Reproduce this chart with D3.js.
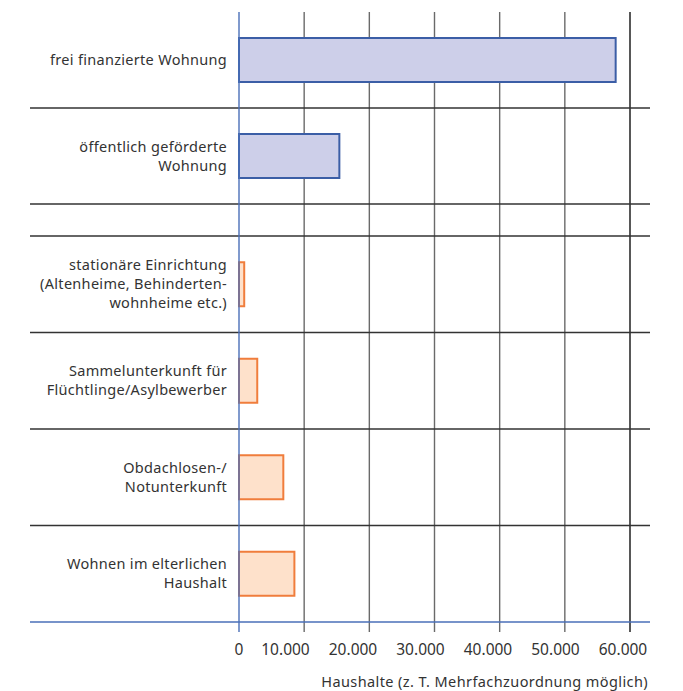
<!DOCTYPE html>
<html>
<head>
<meta charset="utf-8">
<script src="https://cdn.jsdelivr.net/npm/d3@7"></script>
<style>
  html, body { margin: 0; padding: 0; background: #fff; }
  svg { display: block; font-family: "Noto Sans", "Open Sans", sans-serif; }
</style>
</head>
<body>
<svg id="chart" width="683" height="691"></svg>
<script>
// ---- data ----
const topCategories = ["frei finanzierte Wohnung", "öffentlich geförderte Wohnung"];
const topValues = [57800, 15400];
const topLabelLines = [["frei finanzierte Wohnung"], ["öffentlich geförderte", "Wohnung"]];

const bottomCategories = ["stationäre Einrichtung", "Sammelunterkunft", "Obdachlosenunterkunft", "Wohnen im elterlichen Haushalt"];
const bottomValues = [800, 2800, 6800, 8500];
const bottomLabelLines = [
  ["stationäre Einrichtung", "(Altenheime, Behinderten-", "wohnheime etc.)"],
  ["Sammelunterkunft für", "Flüchtlinge/Asylbewerber"],
  ["Obdachlosen-/", "Notunterkunft"],
  ["Wohnen im elterlichen", "Haushalt"]
];

const tickValues = [0, 10000, 20000, 30000, 40000, 50000, 60000];
const tickLabels = ["0", "10.000", "20.000", "30.000", "40.000", "50.000", "60.000"];
const axisTitle = "Haushalte (z. T. Mehrfachzuordnung möglich)";

// ---- layout ----
const svg = d3.select("#chart");
const x = d3.scaleLinear().domain([0, 60000]).range([239, 630]);
const labelX = d3.scaleLinear().domain([10000, 60000]).range([285.5, 623]);
const yTop = d3.scaleBand().domain(topCategories).range([12, 204]);
const yBottom = d3.scaleBand().domain(bottomCategories).range([236, 622]);
const leftEdge = 30, rightEdge = 650, plotTop = 12, plotBottom = 622, tickEnd = 632;
const barH = 44;
const lineH = 19;

// vertical grid lines
svg.append("g").selectAll("line").data(tickValues.slice(1)).join("line")
  .attr("x1", d => x(d)).attr("x2", d => x(d))
  .attr("y1", plotTop).attr("y2", tickEnd)
  .attr("stroke", d => d === 60000 ? "#111" : "#6a6a6a")
  .attr("stroke-width", 1.4);

// horizontal separators
const sepYs = topCategories.map(c => yTop(c) + yTop.bandwidth())
  .concat(bottomCategories.map(c => yBottom(c)));
svg.append("g").selectAll("line").data(sepYs).join("line")
  .attr("x1", leftEdge).attr("x2", rightEdge)
  .attr("y1", d => d).attr("y2", d => d)
  .attr("stroke", "#333").attr("stroke-width", 1.4);

// bars
function drawBars(cats, vals, yScale, fill, stroke) {
  svg.append("g").selectAll("rect").data(cats).join("rect")
    .attr("x", x(0))
    .attr("y", c => yScale(c) + yScale.bandwidth() / 2 - barH / 2)
    .attr("width", (c, i) => x(vals[i]) - x(0))
    .attr("height", barH)
    .attr("fill", fill)
    .attr("stroke", stroke)
    .attr("stroke-width", 2);
}
drawBars(topCategories, topValues, yTop, "#cdcfe9", "#3b5ea6");
drawBars(bottomCategories, bottomValues, yBottom, "#fee1cb", "#f07d3c");

// category labels
function drawLabels(cats, lines, yScale) {
  cats.forEach((c, i) => {
    const cy = yScale(c) + yScale.bandwidth() / 2;
    const ls = lines[i];
    const t = svg.append("text")
      .attr("text-anchor", "end")
      .attr("font-size", 14.5)
      .attr("letter-spacing", 0.3)
      .attr("fill", "#333");
    ls.forEach((l, j) => {
      t.append("tspan")
        .attr("x", 227)
        .attr("y", cy - (ls.length - 1) * lineH / 2 + 5 + j * lineH)
        .text(l);
    });
  });
}
drawLabels(topCategories, topLabelLines, yTop);
drawLabels(bottomCategories, bottomLabelLines, yBottom);

// y axis line (blue) and bottom axis (blue)
svg.append("line")
  .attr("x1", x(0)).attr("x2", x(0)).attr("y1", plotTop).attr("y2", tickEnd)
  .attr("stroke", "#4a6fb8").attr("stroke-width", 1.4);
svg.append("line")
  .attr("x1", leftEdge).attr("x2", rightEdge).attr("y1", plotBottom).attr("y2", plotBottom)
  .attr("stroke", "#4a6fb8").attr("stroke-width", 1.4);

// tick labels
svg.append("g").selectAll("text").data(tickValues).join("text")
  .attr("x", d => d === 0 ? x(0) : labelX(d))
  .attr("y", 655)
  .attr("text-anchor", "middle")
  .attr("font-size", 15.5)
  .attr("fill", "#333")
  .text((d, i) => tickLabels[i]);

// axis title
svg.append("text")
  .attr("x", 648).attr("y", 687)
  .attr("text-anchor", "end")
  .attr("font-size", 14.5)
  .attr("letter-spacing", 0.4)
  .attr("fill", "#333")
  .text(axisTitle);
</script>
</body>
</html>
